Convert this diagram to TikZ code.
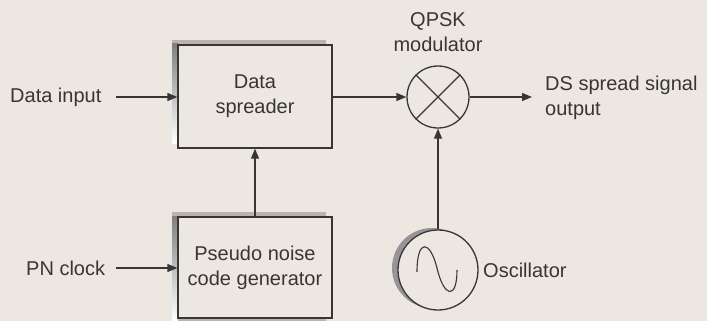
\documentclass[tikz,border=0pt]{standalone}
\usepackage{fontspec}
\setmainfont{Liberation Sans}
\usetikzlibrary{arrows.meta}
\definecolor{bg}{HTML}{EDE7E2}
\definecolor{ink}{HTML}{383535}
\definecolor{shade}{HTML}{A8A4A8}
\definecolor{shadetop}{HTML}{BDB2AE}
\begin{document}
\begin{tikzpicture}[x=1pt,y=-1pt,
  every node/.style={font=\fontsize{20}{25}\selectfont, text=ink},
  blk/.style={draw=ink, line width=1.3pt, minimum width=154pt, inner sep=0pt, align=center},
  conn/.style={draw=ink, line width=1.3pt, -{Triangle[length=10pt,width=8pt]}},
  lbl/.style={inner sep=0pt}]
\fill[bg] (0,0) rectangle (707,321);
\useasboundingbox (0,0) rectangle (707,321);
% shadows
\fill[shadetop] (172,40) rectangle (326,143);
\fill[shade] (172,44) rectangle (178,143);
\fill[shadetop] (172,212) rectangle (326,321);
\fill[shade] (172,216) rectangle (178,321);
\fill[shade!90!black] (432,268) circle (40);
\fill[shade!25] (435,96) circle (32);
% blocks
\node[blk, fill=bg, minimum height=103pt] (ds) at (255,96.5) {Data\\spreader};
\node[blk, fill=bg, minimum height=101pt] (pn) at (255,267.5) {Pseudo noise\\code generator};
\node[draw=ink, line width=1.3pt, circle, fill=bg, minimum size=62pt, inner sep=0pt] (mod) at (438,97) {};
\draw[ink, line width=1.1pt] (mod.north west) -- (mod.south east) (mod.north east) -- (mod.south west);
\node[draw=ink, line width=1.3pt, circle, fill=bg, minimum size=80pt, inner sep=0pt] (osc) at (438,270) {};
\draw[ink, line width=1.1pt] (417,272) .. controls (417,238) and (430,240) .. (437,268)
  .. controls (444,298) and (457,300) .. (457,270);
% labels
\node[lbl, anchor=west] (din) at (10,97) {Data input};
\node[lbl, anchor=west] (pnc) at (26,268) {PN clock};
\node[lbl, align=center] (qpsk) at (438,32) {QPSK\\modulator};
\node[lbl, anchor=west, align=left] (dso) at (545,98) {DS spread signal\\output};
\node[lbl, anchor=west] (oscl) at (483,270) {Oscillator};
\coordinate (dinE) at (116,97);
\coordinate (pncE) at (116,268);
\coordinate (outE) at (532,97);
% connectors
\draw[conn] (dinE) -- (ds.west |- dinE);
\draw[conn] (pncE) -- (pn.west |- pncE);
\draw[conn] (pn.north) -- (ds.south);
\draw[conn] (ds.east |- mod.west) -- (mod.west);
\draw[conn] (mod.east) -- (outE);
\draw[conn] (osc.north) -- (mod.south);
\end{tikzpicture}
\end{document}
